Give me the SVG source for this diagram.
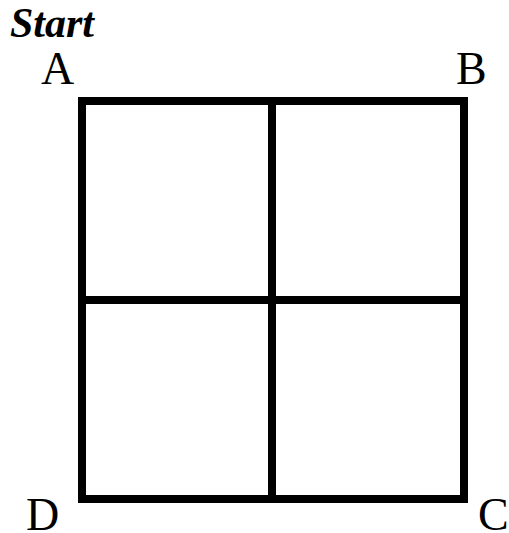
<svg xmlns="http://www.w3.org/2000/svg" width="509" height="533" viewBox="0 0 509 533">
<style>
.lbl{font-family:"Liberation Serif","Times New Roman",serif;font-size:46px;fill:#000}
.g{fill:none;stroke:#000;stroke-width:8;stroke-linecap:square}
</style>
<rect width="509" height="533" fill="#fff"/>
<g id="connectors">
<rect class="g" x="82" y="101" width="382" height="398"/>
<line class="g" x1="272" y1="101" x2="272" y2="499"/>
<line class="g" x1="82" y1="300" x2="464" y2="300"/>
</g>
<g id="start"><text x="10" y="37" style="font-family:'Liberation Serif','Times New Roman',serif;font-size:42px;font-weight:bold;font-style:italic">Start</text></g>
<g id="A"><text class="lbl" x="41" y="84">A</text></g>
<g id="B"><text class="lbl" x="456" y="84">B</text></g>
<g id="D"><text class="lbl" x="26" y="530">D</text></g>
<g id="C"><text class="lbl" x="478" y="530">C</text></g>
</svg>
